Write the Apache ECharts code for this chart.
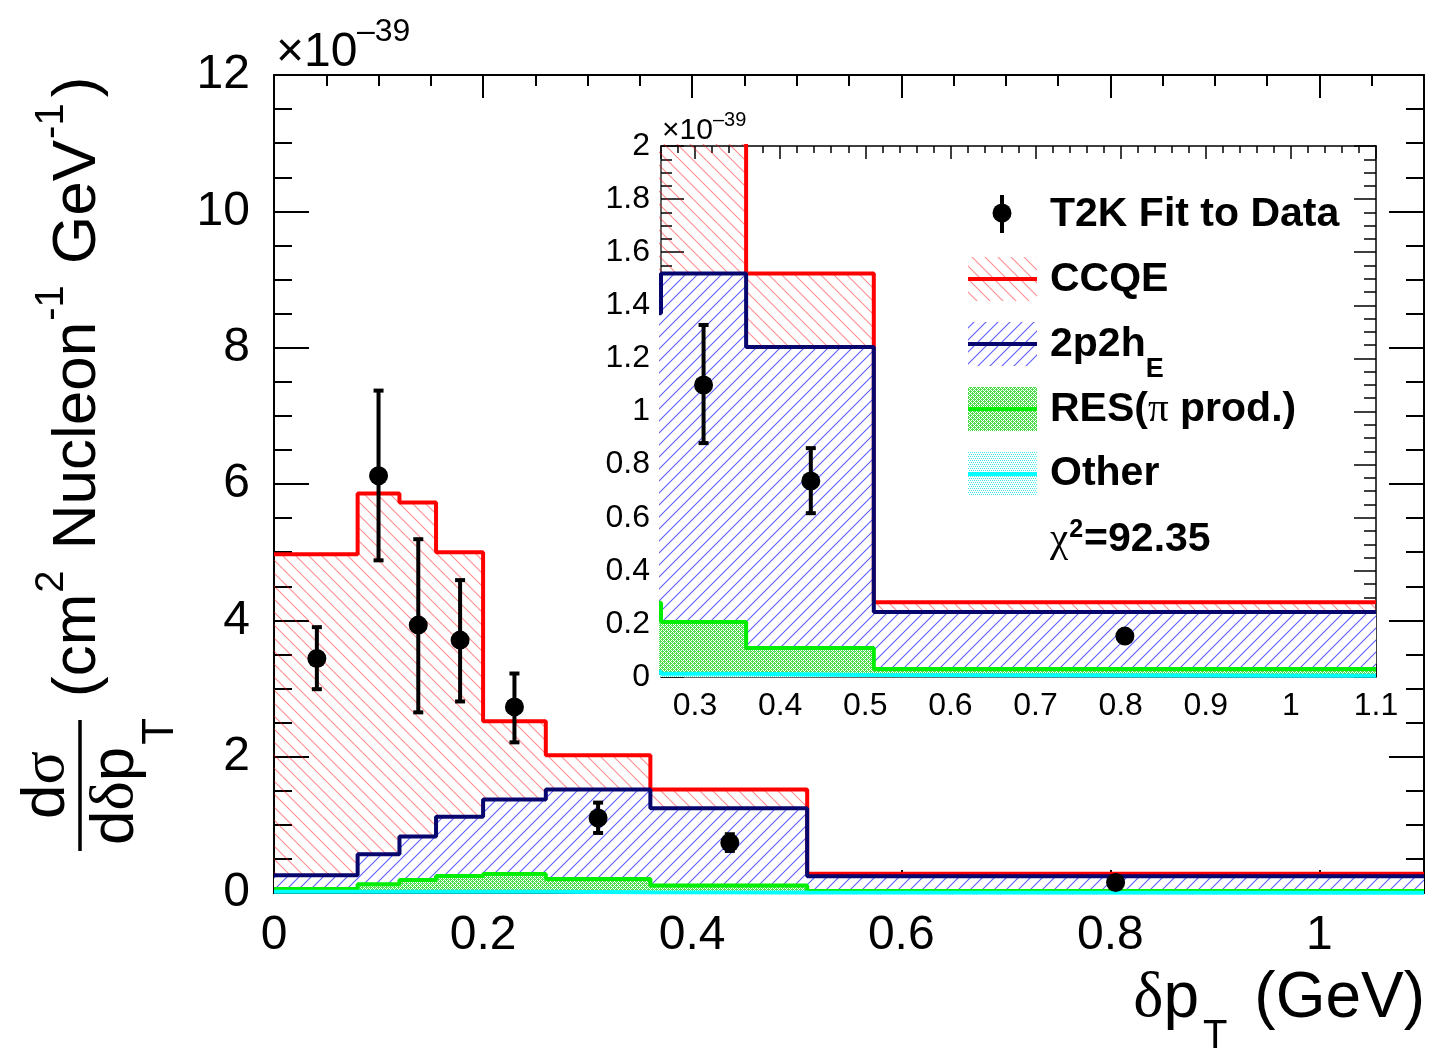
<!DOCTYPE html>
<html><head><meta charset="utf-8">
<script src="https://cdn.jsdelivr.net/npm/echarts@6/dist/echarts.min.js"></script>
<style>html,body{margin:0;padding:0;background:#fff}#chart{width:1429px;height:1053px}</style>
</head><body><div id="chart"></div>
<script>
// ---------------- data (units of 1e-39 cm^2 / nucleon / GeV) ----------------
const binEdges   = [0, 0.08, 0.12, 0.155, 0.2, 0.26, 0.36, 0.51, 1.1];
// stacked tops
const ccqeTop    = [4.97, 5.86, 5.73, 5.00, 2.52, 2.02, 1.52, 0.282];
const twoP2hTop  = [0.26, 0.57, 0.83, 1.12, 1.37, 1.52, 1.243, 0.245];
const resTop     = [0.06, 0.13, 0.19, 0.25, 0.28, 0.207, 0.109, 0.03];
const otherTop   = [0.02, 0.02, 0.02, 0.02, 0.02, 0.012, 0.008, 0.005];
// T2K fit to data points
const dataX      = [0.041, 0.100, 0.138, 0.178, 0.230, 0.310, 0.436, 0.805];
const dataY      = [3.44, 6.12, 3.93, 3.71, 2.73, 1.10, 0.738, 0.154];
const dataLow    = [2.99, 4.88, 2.65, 2.81, 2.21, 0.881, 0.617, 0.135];
const dataHigh   = [3.90, 7.37, 5.19, 4.59, 3.22, 1.326, 0.862, 0.175];
// tick labels
const mainXTickValues  = [0, 0.2, 0.4, 0.6, 0.8, 1];
const mainXTickLabels  = ['0', '0.2', '0.4', '0.6', '0.8', '1'];
const mainYTickValues  = [0, 2, 4, 6, 8, 10, 12];
const mainYTickLabels  = ['0', '2', '4', '6', '8', '10', '12'];
const insetXTickValues = [0.3, 0.4, 0.5, 0.6, 0.7, 0.8, 0.9, 1, 1.1];
const insetXTickLabels = ['0.3', '0.4', '0.5', '0.6', '0.7', '0.8', '0.9', '1', '1.1'];
const insetYTickValues = [0, 0.2, 0.4, 0.6, 0.8, 1, 1.2, 1.4, 1.6, 1.8, 2];
const insetYTickLabels = ['0', '0.2', '0.4', '0.6', '0.8', '1', '1.2', '1.4', '1.6', '1.8', '2'];
const legendNames = ['T2K Fit to Data', 'CCQE', '2p2h', 'RES(', 'Other'];
const chiSquare = '92.35';
const insetXMin = 0.26, insetXMax = 1.1, insetYMax = 2;
const mainXMax = 1.1, mainYMax = 12;
// ----------------------------------------------------------------------------

const SANS = '"Liberation Sans", Arial, Helvetica, sans-serif';
const SERIF = '"Liberation Serif", "Times New Roman", serif';
const RED = '#ff0000', NAVY = '#06066e', GREEN = '#00ee00', CYAN = '#00ffff';

const mctx = document.createElement('canvas').getContext('2d');
function tw(t, font) { mctx.font = font; return mctx.measureText(t).width; }

function hatch(dir, color, bg, s, lw) {
  const c = document.createElement('canvas'); c.width = s; c.height = s;
  const g = c.getContext('2d');
  if (bg) { g.fillStyle = bg; g.fillRect(0, 0, s, s); }
  g.strokeStyle = color; g.lineWidth = lw; g.beginPath();
  if (dir === 'back') {
    g.moveTo(-1, -1); g.lineTo(s + 1, s + 1);
    g.moveTo(s - 1, -1); g.lineTo(s + 1, 1);
    g.moveTo(-1, s - 1); g.lineTo(1, s + 1);
  } else {
    g.moveTo(-1, s + 1); g.lineTo(s + 1, -1);
    g.moveTo(-1, 1); g.lineTo(1, -1);
    g.moveTo(s - 1, s + 1); g.lineTo(s + 1, s - 1);
  }
  g.stroke();
  return { image: c, repeat: 'repeat' };
}
function dots(color, bg, cells, w, h) {
  const c = document.createElement('canvas'); c.width = w; c.height = h;
  const g = c.getContext('2d');
  g.fillStyle = bg; g.fillRect(0, 0, w, h);
  g.fillStyle = color;
  cells.forEach(p => g.fillRect(p[0], p[1], 1, 1));
  return { image: c, repeat: 'repeat' };
}
const redPat = hatch('back', 'rgba(255,0,0,0.45)', null, 13, 1.1);
const bluePat = hatch('fwd', 'rgba(40,40,255,0.75)', '#ffffff', 12, 1.1);
const greenPat = dots('#4fdc4f', '#ffffff', [[0,0],[2,0],[1,1],[3,1],[0,2],[2,2],[1,3],[3,3],[0,1],[2,3]], 4, 4);
const cyanPat = dots('#44e6e6', '#ffffff', [[0,0],[2,0],[1,2],[3,2]], 4, 4);

function stepData(vals, from) {
  const pts = [];
  for (let i = from; i < vals.length; i++) pts.push([binEdges[i], vals[i]]);
  pts.push([binEdges[vals.length], vals[vals.length - 1]]);
  return pts;
}
function labelFmt(values, labels) {
  return function (v) {
    const i = values.findIndex(t => Math.abs(t - v) < 1e-6);
    return i >= 0 ? labels[i] : '';
  };
}

function axisBase(extra) {
  return Object.assign({
    type: 'value', splitLine: { show: false },
    axisLine: { show: false, onZero: false },
    axisTick: { show: true, inside: true },
    axisLabel: { show: false }
  }, extra);
}
function tickStyle(len, w) { return { show: true, inside: true, length: len, lineStyle: { color: '#000', width: w } }; }

const xAxes = [
  // main grid
  axisBase({ gridIndex: 0, position: 'bottom', min: 0, max: mainXMax, interval: 0.2,
    axisLine: { show: true, onZero: false, lineStyle: { color: '#000', width: 2 } },
    axisTick: tickStyle(23, 2),
    axisLabel: { show: true, margin: 19, fontSize: 48, color: '#000', fontFamily: SANS,
      formatter: labelFmt(mainXTickValues, mainXTickLabels) } }),
  axisBase({ gridIndex: 0, position: 'bottom', min: 0, max: mainXMax, interval: 0.05, axisTick: tickStyle(11, 2) }),
  axisBase({ gridIndex: 0, position: 'top', min: 0, max: mainXMax, interval: 0.2,
    axisLine: { show: true, onZero: false, lineStyle: { color: '#000', width: 2 } }, axisTick: tickStyle(23, 2) }),
  axisBase({ gridIndex: 0, position: 'top', min: 0, max: mainXMax, interval: 0.05, axisTick: tickStyle(11, 2) }),
  // inset grid
  axisBase({ gridIndex: 1, position: 'bottom', min: insetXMin, max: insetXMax, splitNumber: 8,
    axisLine: { show: true, onZero: false, lineStyle: { color: '#333', width: 1.5 } },
    axisTick: tickStyle(13, 1.5),
    axisLabel: { show: true, margin: 13, fontSize: 32, color: '#000', fontFamily: SANS,
      formatter: labelFmt(insetXTickValues, insetXTickLabels) } }),
  axisBase({ gridIndex: 1, position: 'bottom', min: insetXMin, max: insetXMax, interval: 0.02, axisTick: tickStyle(7, 1.5) }),
  axisBase({ gridIndex: 1, position: 'top', min: insetXMin, max: insetXMax, splitNumber: 8,
    axisLine: { show: true, onZero: false, lineStyle: { color: '#000', width: 1.5 } }, axisTick: tickStyle(13, 1.5) }),
  axisBase({ gridIndex: 1, position: 'top', min: insetXMin, max: insetXMax, interval: 0.02, axisTick: tickStyle(7, 1.5) })
];
const yAxes = [
  axisBase({ gridIndex: 0, position: 'left', min: 0, max: mainYMax, interval: 2,
    axisLine: { show: true, onZero: false, lineStyle: { color: '#000', width: 2 } },
    axisTick: tickStyle(35, 2),
    minorTick: { show: true, splitNumber: 4, length: 18, lineStyle: { color: '#000', width: 2 } },
    axisLabel: { show: true, margin: 24, fontSize: 48, color: '#000', fontFamily: SANS,
      formatter: labelFmt(mainYTickValues, mainYTickLabels) } }),
  axisBase({ gridIndex: 0, position: 'right', min: 0, max: mainYMax, interval: 2,
    axisLine: { show: true, onZero: false, lineStyle: { color: '#000', width: 2 } },
    axisTick: tickStyle(35, 2),
    minorTick: { show: true, splitNumber: 4, length: 18, lineStyle: { color: '#000', width: 2 } } }),
  axisBase({ gridIndex: 1, position: 'left', min: 0, max: insetYMax, interval: 0.2,
    axisLine: { show: true, onZero: false, lineStyle: { color: '#333', width: 1.5 } },
    axisTick: tickStyle(23, 1.5),
    minorTick: { show: true, splitNumber: 4, length: 11, lineStyle: { color: '#000', width: 1.5 } },
    axisLabel: { show: true, margin: 11, fontSize: 32, color: '#000', fontFamily: SANS,
      formatter: labelFmt(insetYTickValues, insetYTickLabels) } }),
  axisBase({ gridIndex: 1, position: 'right', min: 0, max: insetYMax, interval: 0.2,
    axisLine: { show: true, onZero: false, lineStyle: { color: '#000', width: 1.5 } },
    axisTick: tickStyle(22, 1.5),
    minorTick: { show: true, splitNumber: 4, length: 12, lineStyle: { color: '#000', width: 1.5 } } })
];

const layers = [
  { vals: ccqeTop, color: RED, pat: redPat },
  { vals: twoP2hTop, color: NAVY, pat: bluePat },
  { vals: resTop, color: GREEN, pat: greenPat },
  { vals: otherTop, color: CYAN, pat: cyanPat }
];

function errRender(capHalf) {
  return function (params, api) {
    const x = api.value(0), lo = api.value(1), hi = api.value(2);
    const p1 = api.coord([x, lo]), p2 = api.coord([x, hi]);
    const st = { stroke: '#000', lineWidth: 4 };
    return { type: 'group', children: [
      { type: 'line', shape: { x1: p1[0], y1: p1[1], x2: p2[0], y2: p2[1] }, style: st },
      { type: 'line', shape: { x1: p1[0] - capHalf, y1: p1[1], x2: p1[0] + capHalf, y2: p1[1] }, style: st },
      { type: 'line', shape: { x1: p2[0] - capHalf, y1: p2[1], x2: p2[0] + capHalf, y2: p2[1] }, style: st }
    ] };
  };
}

const series = [];
[[0, 0, 0], [4, 2, 4]].forEach(([xi, yi, from]) => {
  layers.forEach(L => {
    series.push({ type: 'line', xAxisIndex: xi, yAxisIndex: yi, step: 'end', symbol: 'none', z: 3,
      data: stepData(L.vals, from), lineStyle: { color: L.color, width: 4 },
      areaStyle: { color: L.pat, opacity: 1 }, silent: true, clip: true });
  });
  const minX = xi === 0 ? 0 : insetXMin;
  const idx = dataX.map((x, i) => i).filter(i => dataX[i] >= minX);
  series.push({ type: 'custom', xAxisIndex: xi, yAxisIndex: yi, clip: true, silent: true, z: 6,
    renderItem: errRender(5), encode: { x: 0, y: [1, 2] },
    data: idx.map(i => [dataX[i], dataLow[i], dataHigh[i]]) });
  series.push({ type: 'scatter', xAxisIndex: xi, yAxisIndex: yi, symbol: 'circle', symbolSize: 19, z: 7,
    itemStyle: { color: '#000', opacity: 1 }, silent: true, clip: true,
    data: idx.map(i => [dataX[i], dataY[i]]) });
});

// ---------------- text / legend graphics ----------------
const graphics = [];
function txt(t, font, x, y, align, rot) {
  const e = { type: 'text', x: x, y: y, silent: true, z: 100,
    style: { text: t, font: font, fill: '#000', textAlign: align || 'left', textVerticalAlign: 'middle',
      align: align || 'left', verticalAlign: 'middle' } };
  if (rot) e.rotation = rot;
  graphics.push(e);
}
function runH(pieces, x0, y0) {
  let x = x0;
  pieces.forEach(p => { txt(p.t, p.f, x, y0 + (p.dy || 0), 'left'); x += tw(p.t, p.f) + (p.gap || 0); });
}
function runV(pieces, x0, y0) {
  let y = y0;
  pieces.forEach(p => { txt(p.t, p.f, x0 + (p.dx || 0), y, 'left', Math.PI / 2); y -= tw(p.t, p.f) + (p.gap || 0); });
}

// exponent labels
txt('×10', '48px ' + SANS, 276, 53, 'left');
txt('–39', '32px ' + SANS, 357, 32, 'left');
txt('×10', '30px ' + SANS, 662, 131, 'left');
txt('–39', '20px ' + SANS, 713, 120, 'left');

// y axis title
const FT = 62, FS = 40;
const fMain = FT + 'px ' + SANS, fSup = FS + 'px ' + SANS;
runV([
  { t: '(cm', f: fMain, gap: 1 }, { t: '2', f: fSup, dx: -26, gap: 4 }, { t: ' Nucleon', f: fMain, gap: 1 },
  { t: '-1', f: fSup, dx: -26, gap: 4 }, { t: ' GeV', f: fMain, gap: 1 }, { t: '-1', f: fSup, dx: -26, gap: 6 },
  { t: ')', f: fMain }
], 78, 697);
runV([{ t: 'd', f: fMain }, { t: 'σ', f: FT + 'px ' + SERIF }], 47, 785 + (tw('d', fMain) + tw('σ', FT + 'px ' + SERIF)) / 2);
graphics.push({ type: 'line', silent: true, z: 100, shape: { x1: 80, y1: 720, x2: 80, y2: 851 }, style: { stroke: '#000', lineWidth: 3.5 } });
runV([{ t: 'd', f: fMain }, { t: 'δ', f: FT + 'px ' + SERIF }, { t: 'p', f: fMain, gap: 2 },
  { t: 'T', f: '44px ' + SANS, dx: 45 }], 116, 845);

// x axis title
const FX = 64, fX = FX + 'px ' + SANS;
txt('(GeV)', fX, 1425, 999, 'right');
txt('T', '40px ' + SANS, 1203, 1037, 'left');
runH([{ t: 'δ', f: FX + 'px ' + SERIF }, { t: 'p', f: fX }], 1199 - tw('δ', FX + 'px ' + SERIF) - tw('p', fX), 999);

// legend
const LB = 'bold 41px ' + SANS, LS = 'bold 27px ' + SANS;
graphics.push({ type: 'line', silent: true, z: 100, shape: { x1: 1002, y1: 195, x2: 1002, y2: 233 }, style: { stroke: '#000', lineWidth: 4 } });
graphics.push({ type: 'circle', silent: true, z: 100, shape: { cx: 1002, cy: 213, r: 9.5 }, style: { fill: '#000' } });
const legendBoxes = [[257, redPat, RED], [322, bluePat, NAVY], [387, greenPat, GREEN], [452, cyanPat, CYAN]];
legendBoxes.forEach(([y, pat, col]) => {
  graphics.push({ type: 'rect', silent: true, z: 100, shape: { x: 968, y: y, width: 69, height: 44 }, style: { fill: pat } });
  graphics.push({ type: 'line', silent: true, z: 101, shape: { x1: 968, y1: y + 22, x2: 1037, y2: y + 22 }, style: { stroke: col, lineWidth: 4 } });
});
runH([{ t: legendNames[0], f: LB }], 1050, 215);
runH([{ t: legendNames[1], f: LB }], 1050, 280);
runH([{ t: legendNames[2], f: LB }, { t: 'E', f: LS, dy: 25 }], 1050, 345);
runH([{ t: legendNames[3], f: LB }, { t: 'π', f: '41px ' + SERIF }, { t: ' prod.)', f: LB }], 1050, 410);
runH([{ t: legendNames[4], f: LB }], 1050, 474);
runH([{ t: 'χ', f: '41px ' + SERIF, gap: 1 }, { t: '2', f: 'bold 25px ' + SANS, dy: -10, gap: 1 }, { t: '=' + chiSquare, f: LB }], 1050, 540);

const chart = echarts.init(document.getElementById('chart'), null, { renderer: 'canvas' });
chart.setOption({
  backgroundColor: '#ffffff',
  animation: false,
  grid: [
    { left: 274, top: 75, width: 1150, height: 818, containLabel: false, outerBoundsMode: 'none' },
    { left: 661, top: 146, width: 715, height: 531, containLabel: false, outerBoundsMode: 'none' }
  ],
  xAxis: xAxes,
  yAxis: yAxes,
  series: series,
  graphic: { elements: graphics }
});
</script></body></html>
